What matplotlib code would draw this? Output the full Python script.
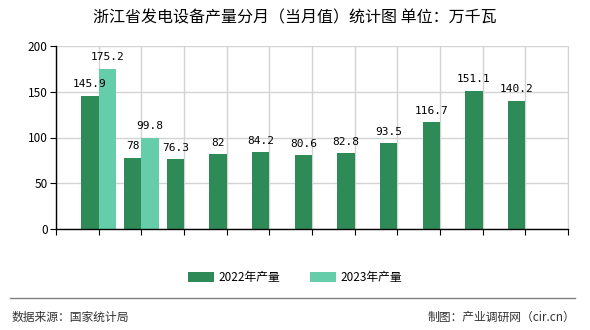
import matplotlib
matplotlib.use("Agg")
import matplotlib.pyplot as plt
import numpy as np

plt.rcParams['font.family'] = ['Noto Sans CJK SC', 'DejaVu Sans']

months = ["1-2月", "3月", "4月", "5月", "6月", "7月", "8月", "9月", "10月", "11月", "12月"]
y2022 = [145.9, 78, 76.3, 82, 84.2, 80.6, 82.8, 93.5, 116.7, 151.1, 140.2]
y2023 = [175.2, 99.8]

c2022 = "#2e8b57"
c2023 = "#66cdaa"

fig = plt.figure(figsize=(5.9, 3.3), dpi=100)
ax = fig.add_axes([56 / 590, 101 / 330, 512 / 590, 183 / 330])

x = np.arange(1, len(months) + 1)
w = 0.41
b1 = ax.bar(x - w / 2, y2022, w, color=c2022, label="2022年产量", zorder=3)
b2 = ax.bar(x[:len(y2023)] + w / 2, y2023, w, color=c2023, label="2023年产量", zorder=3)

for bars, vals in ((b1, y2022), (b2, y2023)):
    for r, v in zip(bars, vals):
        ax.text(r.get_x() + r.get_width() / 2, v + 7, f"{v:g}", ha="center", va="bottom",
                fontsize=8, family="DejaVu Sans Mono", zorder=4)

ax.set_xlim(0, 12)
ax.set_ylim(0, 200)
ax.set_yticks([0, 50, 100, 150, 200])
ax.set_xticks(np.arange(0, 13))
ax.set_xticks(x, minor=True)
ax.set_xticklabels([])
ax.set_xticklabels(months, minor=True)
ax.tick_params(axis="x", which="minor", length=0, labelsize=8.5, pad=5)
ax.tick_params(axis="x", which="major", length=4, direction="out")
ax.tick_params(axis="y", labelsize=8.5, length=4, pad=2)
ax.grid(True, which="major", color="#d3d3d3", linewidth=1, zorder=0)
ax.spines["top"].set_visible(False)
ax.spines["right"].set_color("#d3d3d3")
for s in ("left", "bottom"):
    ax.spines[s].set_linewidth(1)
    ax.spines[s].set_zorder(5)

fig.text(0.5, 0.945, "浙江省发电设备产量分月（当月值）统计图 单位：万千瓦", ha="center", va="center", fontsize=11.5)

fig.legend(handles=[b1, b2], loc="center", bbox_to_anchor=(0.5, 0.16), ncol=2, frameon=False,
           fontsize=8.5, handlelength=2.2, handleheight=0.9, columnspacing=2.5, handletextpad=0.4)

fig.add_artist(plt.Line2D([10 / 590, 575 / 590], [1 - 298 / 330, 1 - 298 / 330], color="#808080", linewidth=1))
fig.text(12 / 590, 1 - 317 / 330, "数据来源：国家统计局", ha="left", va="center", fontsize=8.5, color="#333333")
fig.text(575 / 590, 1 - 317 / 330, "制图：产业调研网（cir.cn）", ha="right", va="center", fontsize=8.5, color="#333333")

fig.savefig("out.png", dpi=100)
